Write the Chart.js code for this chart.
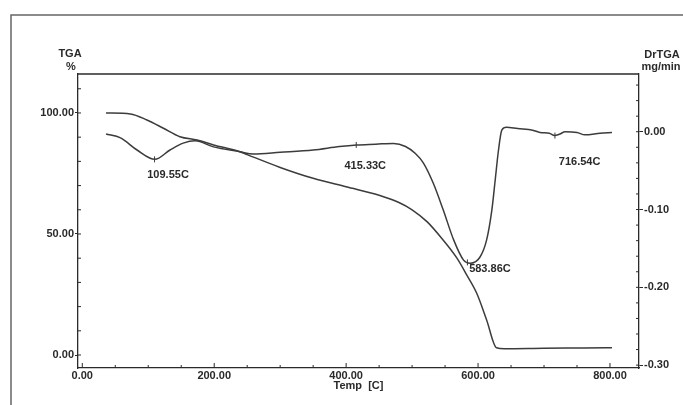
<!DOCTYPE html>
<html>
<head>
<meta charset="utf-8">
<script src="https://cdn.jsdelivr.net/npm/chart.js@4/dist/chart.umd.min.js"></script>
<style>
    html, body { margin: 0; padding: 0; background: #fff; }
    #wrap { width: 683px; height: 405px; }
</style>
</head>
<body>
<div id="wrap"><canvas id="chart1" width="683" height="405"></canvas></div>
<script>
// tick labels
const tempTicks = [0, 200, 400, 600, 800]
const tgaTicks = [0, 50, 100]
const dtgTicks = [-0.3, -0.2, -0.1, 0]

// TGA curve, weight %
const tgaTemp = [36, 73, 98, 123, 148, 174, 199, 239, 250, 300, 350, 400, 450, 480,
    500, 523, 547, 568, 583, 598, 613, 628, 640, 700, 760, 803]
const tgaValue = [100, 99.6, 97.1, 93.7, 90.2, 88.8, 86.8, 84, 82.8, 77.5, 73, 69.5, 66, 63,
    60, 55, 47.5, 40, 33, 25.5, 14.5, 3, 2.6, 2.8, 2.9, 3.0]

// DrTGA curve, mg/min
const dtgTemp = [36, 58, 83, 110, 133, 153, 171, 199, 239, 259, 300, 350, 390, 416, 445,
    472, 490, 505, 517, 532, 547, 563, 578, 588, 603, 613, 621, 626, 631, 636, 643,
    660, 683, 694, 708, 716, 724, 732, 750, 762, 785, 803]
const dtgValue = [-0.003, -0.008, -0.0235, -0.0355, -0.0235, -0.0147, -0.0116, -0.0195, -0.0257,
    -0.0287, -0.0265, -0.0235, -0.019, -0.017, -0.016, -0.015, -0.019, -0.028, -0.040, -0.066,
    -0.100, -0.139, -0.165, -0.169, -0.161, -0.139, -0.100, -0.062, -0.0235, 0.002, 0.0057,
    0.004, 0.002, -0.001, -0.002, -0.005, -0.003, 0, -0.001, -0.004, -0.002, -0.001]

// marked peaks on the DrTGA curve and where their captions sit
const peakTemps = [109.55, 415.33, 583.86, 716.54]
const peakValues = [-0.0355, -0.017, -0.168, -0.005]
const captionTemps = [130, 429, 618, 754]
const captionValues = [-0.0557, -0.0441, -0.1765, -0.039]

const ink = '#2a2a2a'
const lineInk = '#3c3c3c'
Chart.defaults.font.family = '"Liberation Sans", Arial, sans-serif'
Chart.defaults.font.size = 11
Chart.defaults.font.weight = 'bold'
Chart.defaults.color = ink

const decor = {
    id: 'decor',
    beforeDraw(chart) {
        const ctx = chart.ctx
        ctx.save()
        ctx.fillStyle = '#fff'
        ctx.fillRect(0, 0, chart.width, chart.height)
        // frame of the scanned page
        ctx.strokeStyle = '#666'
        ctx.lineWidth = 1.5
        ctx.beginPath()
        ctx.moveTo(11, chart.height)
        ctx.lineTo(11, 15)
        ctx.lineTo(chart.width, 15)
        ctx.stroke()
        ctx.restore()
    },
    afterDraw(chart) {
        const { ctx, chartArea: a, scales } = chart
        const x = scales.x, y = scales.y, y2 = scales.y2
        ctx.save()
        ctx.strokeStyle = ink
        ctx.lineWidth = 1.3
        ctx.beginPath()
        ctx.moveTo(a.left, a.top)
        ctx.lineTo(a.right, a.top)
        ctx.stroke()

        // inward ticks
        ctx.lineWidth = 1
        ctx.beginPath()
        for (let t = 0; t <= 800; t += 50) {
            const px = x.getPixelForValue(t)
            const len = t % 200 == 0 ? 5 : 3
            ctx.moveTo(px, a.bottom)
            ctx.lineTo(px, a.bottom - len)
        }
        for (let v = 0; v <= 110; v += 10) {
            const py = y.getPixelForValue(v)
            ctx.moveTo(a.left, py)
            ctx.lineTo(a.left + 3, py)
        }
        for (let i = -15; i <= 3; i++) {
            const py = y2.getPixelForValue(i * 0.02)
            ctx.moveTo(a.right, py)
            ctx.lineTo(a.right - 3, py)
        }
        ctx.stroke()

        // peak markers and captions
        ctx.strokeStyle = lineInk
        ctx.beginPath()
        peakTemps.forEach((t, i) => {
            const px = x.getPixelForValue(t)
            const py = y2.getPixelForValue(peakValues[i])
            ctx.moveTo(px, py - 3)
            ctx.lineTo(px, py + 3)
        })
        ctx.stroke()
        ctx.fillStyle = ink
        ctx.font = 'bold 11px "Liberation Sans", Arial, sans-serif'
        ctx.textAlign = 'center'
        ctx.textBaseline = 'middle'
        peakTemps.forEach((t, i) => {
            ctx.fillText(t.toFixed(2) + 'C',
                x.getPixelForValue(captionTemps[i]), y2.getPixelForValue(captionValues[i]))
        })

        // axis captions
        ctx.fillText('TGA', 70, 54)
        ctx.fillText('%', 71, 67)
        ctx.fillText('DrTGA', 662, 55)
        ctx.fillText('mg/min', 661, 67)
        ctx.restore()
    }
}

const ctx = document.getElementById('chart1').getContext('2d')
new Chart(ctx, {
    type: 'line',
    data: {
        datasets: [
            {
                label: 'TGA',
                data: tgaTemp.map((t, i) => ({ x: t, y: tgaValue[i] })),
                yAxisID: 'y',
                borderColor: lineInk,
                borderWidth: 1.5,
                pointRadius: 0,
                cubicInterpolationMode: 'monotone'
            },
            {
                label: 'DrTGA',
                data: dtgTemp.map((t, i) => ({ x: t, y: dtgValue[i] })),
                yAxisID: 'y2',
                borderColor: lineInk,
                borderWidth: 1.5,
                pointRadius: 0,
                cubicInterpolationMode: 'monotone'
            }
        ]
    },
    options: {
        responsive: false,
        animation: false,
        layout: { padding: { top: 74, left: 0, right: 0, bottom: 0 } },
        plugins: { legend: { display: false }, tooltip: { enabled: false } },
        scales: {
            x: {
                type: 'linear',
                min: -6.5,
                max: 844,
                afterBuildTicks: s => { s.ticks = tempTicks.map(v => ({ value: v })) },
                afterFit: s => { s.height = 37 },
                ticks: { padding: 1, maxRotation: 0, callback: v => v.toFixed(2) },
                grid: { drawOnChartArea: false, drawTicks: false },
                border: { color: ink, width: 1.3 },
                title: { display: true, text: 'Temp  [C]', color: ink, padding: { top: 0, bottom: 12 } }
            },
            y: {
                type: 'linear',
                position: 'left',
                min: -5.37,
                max: 116.1,
                afterBuildTicks: s => { s.ticks = tgaTicks.map(v => ({ value: v })) },
                afterFit: s => { s.width = 78 },
                ticks: { padding: 1, callback: v => v.toFixed(2) },
                grid: { drawOnChartArea: false, tickLength: 3, color: ink },
                border: { color: ink, width: 1.3 }
            },
            y2: {
                type: 'linear',
                position: 'right',
                min: -0.3037,
                max: 0.0742,
                afterBuildTicks: s => { s.ticks = dtgTicks.map(v => ({ value: v })) },
                afterFit: s => { s.width = 44 },
                ticks: { padding: 1, callback: v => v.toFixed(2) },
                grid: { drawOnChartArea: false, tickLength: 4, color: ink },
                border: { color: ink, width: 1.3 }
            }
        }
    },
    plugins: [decor]
})
</script>
</body>
</html>
